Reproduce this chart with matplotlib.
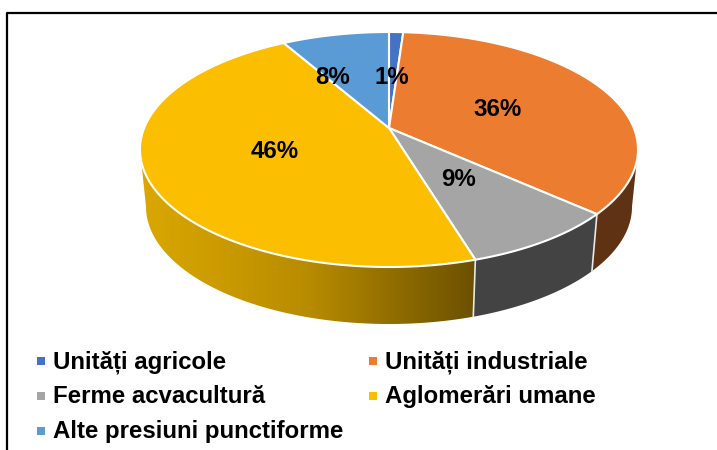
import numpy as np
import matplotlib
matplotlib.use("Agg")
import matplotlib.pyplot as plt
from matplotlib.colors import LinearSegmentedColormap
from matplotlib.patches import Polygon

plt.rcParams['font.family'] = ['Liberation Sans', 'DejaVu Sans']

categories = ["Unități agricole", "Unități industriale", "Ferme acvacultură",
              "Aglomerări umane", "Alte presiuni punctiforme"]
values = [1.1, 35.5, 8.7, 46.4, 8.3]
colors = ["#4472C4", "#EC7C30", "#A5A5A5", "#FCBE00", "#5B9BD5"]
side_colors = ["#2A4A80", "#5F3214", "#434343", None, "#3A6A94"]

# pixel geometry of the tilted pie
CX, APEX_Y = 389, 128
TOP_Y, BOTTOM_Y = 32, 267
HALF_W = 249
DEPTH = 57
BASE_SCALE = 0.976

up, down = APEX_Y - TOP_Y, BOTTOM_Y - APEX_Y
k = (down - up) / (down + up)
B = up * (1 + k)
A = HALF_W * np.sqrt(1 - k ** 2)
# where the outline is widest, the visible wall ends there
TANGENT = np.arccos(-k) / (2 * np.pi)


def project(frac):
    # fraction of the full turn, clockwise from 12 o'clock, to screen position
    t = 2 * np.pi * np.asarray(frac)
    u, v = np.sin(t), np.cos(t)
    w = 1 + k * v
    return CX + A * u / w, APEX_Y - B * v / w


def base(x, y):
    return CX + (x - CX) * BASE_SCALE, y + DEPTH


fig = plt.figure(figsize=(7.17, 4.5), dpi=100)
ax = fig.add_axes([0, 0, 1, 1])
ax.axis('off')

# frame
ax.plot([6.5, 6.5, 717], [450, 12.5, 12.5], color='black', lw=1.6, zorder=1)

edges = np.cumsum([0] + values) / sum(values)

# side walls, only the part facing the viewer
for i in [1, 2, 3]:
    f0 = max(edges[i], TANGENT)
    f1 = min(edges[i + 1], 1 - TANGENT)
    x, y = project(np.linspace(f0, f1, 200))
    bx, by = base(x, y)
    pts = np.column_stack([np.r_[x, bx[::-1]], np.r_[y, by[::-1]]])
    if side_colors[i] is not None:
        ax.add_patch(Polygon(pts, closed=True, fc=side_colors[i], ec='none', zorder=2))
    else:
        # yellow wall has a horizontal gradient
        poly = Polygon(pts, closed=True, fc='none', ec='none', zorder=2)
        ax.add_patch(poly)
        cmap = LinearSegmentedColormap.from_list("wall", ["#DBA800", "#B88C00", "#6B5000"])
        im = ax.imshow(np.linspace(0, 1, 256)[None, :], cmap=cmap, aspect='auto', zorder=2,
                       extent=[pts[:, 0].min(), pts[:, 0].max(), by.max(), y.min()])
        im.set_clip_path(poly)

ax.set_xlim(0, 717)
ax.set_ylim(450, 0)

# white seams between the walls
for f in edges[2:4]:
    x, y = project(f)
    bx, by = base(x, y)
    ax.plot([x, bx], [y, by], color='#E8E8E8', lw=1.2, zorder=3)

# top face
for i in range(len(values)):
    x, y = project(np.linspace(edges[i], edges[i + 1], 200))
    pts = np.column_stack([np.r_[CX, x], np.r_[APEX_Y, y]])
    ax.add_patch(Polygon(pts, closed=True, fc=colors[i], ec='white', lw=1.5,
                         joinstyle='round', zorder=4))

# data labels
label_pos = [(392, 78), (498, 110), (458, 180), (275, 151), (333, 78)]
for v, (lx, ly) in zip(values, label_pos):
    ax.text(lx, ly, "{:.0f}%".format(v), fontsize=17.3, fontweight='bold',
            ha='center', va='center', color='black', zorder=5)

# legend, y is the text baseline
legend_pos = [(38, 368), (370, 368), (38, 403), (370, 403), (38, 438)]
for name, c, (lx, ly) in zip(categories, colors, legend_pos):
    ax.scatter([lx + 3], [ly - 7], marker='s', s=30, color=c, linewidths=0, zorder=5)
    ax.text(lx + 15, ly, name, fontsize=17.3, fontweight='bold',
            ha='left', va='baseline', color='black', zorder=5)

fig.savefig("out.png", dpi=100)
